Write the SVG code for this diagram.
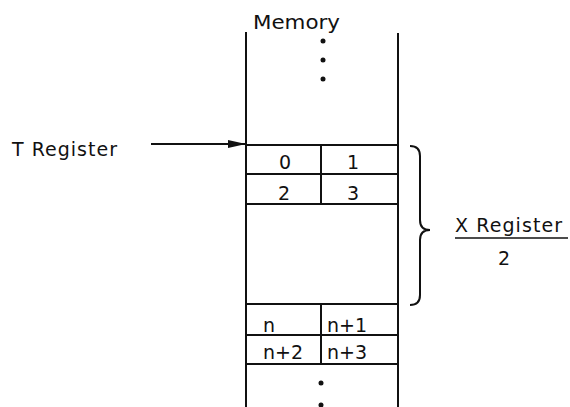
<svg xmlns="http://www.w3.org/2000/svg" width="570" height="407" viewBox="0 0 570 407">
<style>
.ln{stroke:#111;stroke-width:2;fill:none}
.t{font-family:"DejaVu Sans","Liberation Sans",Arial,sans-serif;font-size:19px;fill:#111}
.c{text-anchor:middle}
.dot{fill:#111}
</style>
<defs>
<marker id="ah" markerWidth="18" markerHeight="10" refX="18" refY="5" orient="auto" markerUnits="userSpaceOnUse">
<path d="M0,1 L18,5 L0,9 Z" fill="#111"/>
</marker>
</defs>
<rect width="570" height="407" fill="#fff"/>
<g id="memory">
<line class="ln" x1="246" y1="32" x2="246" y2="407"/>
<line class="ln" x1="398" y1="33" x2="398" y2="407"/>
<text class="t" x="253" y="29" textLength="87" lengthAdjust="spacingAndGlyphs">Memory</text>
<circle class="dot" cx="323" cy="41" r="2.5"/>
<circle class="dot" cx="323" cy="60" r="2.5"/>
<circle class="dot" cx="323" cy="79" r="2.5"/>
<circle class="dot" cx="321" cy="383" r="2.5"/>
<circle class="dot" cx="321" cy="405" r="2.5"/>
</g>
<g id="cells-top">
<line class="ln" x1="246" y1="145" x2="398" y2="145"/>
<line class="ln" x1="246" y1="174" x2="398" y2="174"/>
<line class="ln" x1="246" y1="204" x2="398" y2="204"/>
<line class="ln" x1="321" y1="145" x2="321" y2="204"/>
<text class="t c" x="285" y="169">0</text>
<text class="t c" x="353" y="169">1</text>
<text class="t c" x="284" y="200">2</text>
<text class="t c" x="353" y="200">3</text>
</g>
<g id="cells-bottom">
<line class="ln" x1="246" y1="304" x2="398" y2="304"/>
<line class="ln" x1="246" y1="335" x2="398" y2="335"/>
<line class="ln" x1="246" y1="364" x2="398" y2="364"/>
<line class="ln" x1="321" y1="304" x2="321" y2="364"/>
<text class="t" x="263" y="332" font-size="18">n</text>
<text class="t" x="327" y="332" font-size="18">n+1</text>
<text class="t" x="263" y="359" font-size="18">n+2</text>
<text class="t" x="327" y="359" font-size="18">n+3</text>
</g>
<g id="t-register">
<text class="t" x="12" y="156" textLength="105" lengthAdjust="spacing">T Register</text>
</g>
<g id="x-register">
<path class="ln" d="M410,146 Q420,146 420,156 L420,220 Q420,230 430,230 Q420,230 420,240 L420,295 Q420,305 410,305"/>
<text class="t" x="455" y="232" textLength="107" lengthAdjust="spacing">X Register</text>
<line x1="455" y1="238" x2="568" y2="238" stroke="#111" stroke-width="1.5"/>
<text class="t c" x="504" y="265">2</text>
</g>
<g id="connectors">
<line class="ln" x1="151" y1="144" x2="246" y2="144" stroke-width="1.5" marker-end="url(#ah)"/>
</g>
</svg>
